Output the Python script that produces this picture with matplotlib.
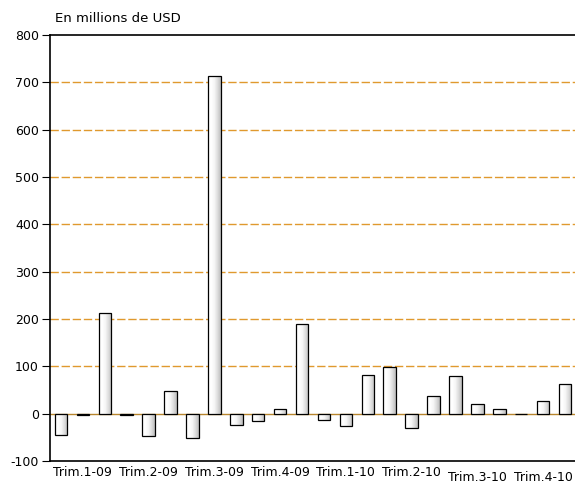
import matplotlib
matplotlib.use("Agg")
import matplotlib.pyplot as plt
import numpy as np
from matplotlib.colors import LinearSegmentedColormap

plt.rcParams['font.family'] = ['DejaVu Sans']

values = [-46, -3, 213, -3, -48, 47, -51, 713, -24, -16, 10, 190,
          -14, -25, 81, 98, -30, 38, 79, 20, 10, -1, 27, 62]
quarter_labels = ["Trim.1-09", "Trim.2-09", "Trim.3-09", "Trim.4-09",
                  "Trim.1-10", "Trim.2-10", "Trim.3-10", "Trim.4-10"]
label_positions = [1, 4, 7, 10, 13, 16, 19, 22]
yticks = [-100, 0, 100, 200, 300, 400, 500, 600, 700, 800]
unit_label = "En millions de USD"

fig = plt.figure(figsize=(5.75, 4.87), dpi=100)
ax = fig.add_axes([50/575, 26/487, 526/575, (461-35)/487])

x = np.arange(len(values))
bars = ax.bar(x, values, width=0.57, color='none', edgecolor='black',
              linewidth=0.9, zorder=4)

cmap = LinearSegmentedColormap.from_list('g', ['#FFFFFF', '#FFFFFF', '#F6F6F6', '#DCDCDC', '#BDBDBD'])
grad = np.linspace(0, 1, 64).reshape(1, -1)
for b in bars:
    bx, by = b.get_x(), b.get_y()
    w, h = b.get_width(), b.get_height()
    y0, y1 = min(by, by + h), max(by, by + h)
    im = ax.imshow(grad, cmap=cmap, extent=[bx, bx + w, y0, y1], aspect='auto',
                   zorder=3, interpolation='bilinear')
    im.set_clip_path(b)

for yv in [100, 200, 300, 400, 500, 600, 700]:
    ax.axhline(yv, color='#E0992E', linestyle=(0, (6, 2)), linewidth=1.0, zorder=1)
ax.axhline(0, color='#B8862E', linewidth=1.0, zorder=2)

ax.set_xlim(-0.5, 23.5)
ax.set_ylim(-100, 800)
ax.set_yticks(yticks)
ax.set_yticklabels([str(v) for v in yticks], fontsize=9)
ax.tick_params(axis='y', length=6, width=0.8, pad=2)
ax.set_xticks([])

for i, (pos, lab) in enumerate(zip(label_positions, quarter_labels)):
    off = -0.012 if i < 6 else -0.024
    ax.text(pos, off, lab, transform=ax.get_xaxis_transform(), ha='center',
            va='top', fontsize=9)

for s in ['left', 'top', 'bottom']:
    ax.spines[s].set_linewidth(1.2)
ax.spines['right'].set_visible(False)

fig.text(55/575, 1 - 18/487, unit_label, fontsize=9.5, ha='left', va='center')

fig.savefig('out.png', dpi=100)
